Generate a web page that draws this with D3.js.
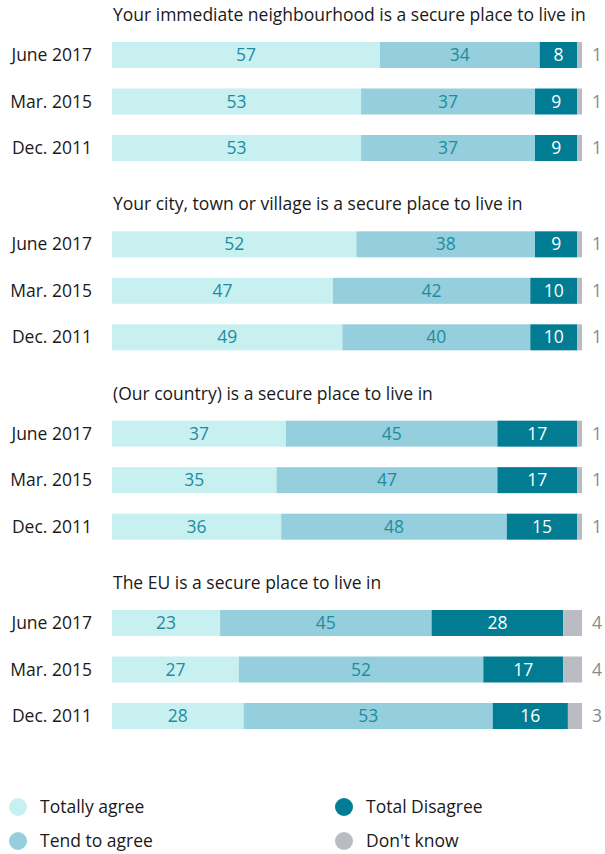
<!DOCTYPE html>
<html>
<head>
<meta charset="utf-8">
<script src="https://cdn.jsdelivr.net/npm/d3@7"></script>
<style>
  html, body { margin: 0; padding: 0; background: #fff; }
  svg { display: block; font-family: "Open Sans", "Noto Sans", sans-serif; }
</style>
</head>
<body>
<svg id="chart" width="605" height="854"></svg>
<script>
// Survey statements, one panel each
const statements = [
  "Your immediate neighbourhood is a secure place to live in",
  "Your city, town or village is a secure place to live in",
  "(Our country) is a secure place to live in",
  "The EU is a secure place to live in"
];
const periods = ["June 2017", "Mar. 2015", "Dec. 2011"];
const answers = ["Totally agree", "Tend to agree", "Total Disagree", "Don't know"];

// Shares (%) per statement, per period: [Totally agree, Tend to agree, Total Disagree, Don't know]
const neighbourhood = [[57, 34, 8, 1], [53, 37, 9, 1], [53, 37, 9, 1]];
const cityTown      = [[52, 38, 9, 1], [47, 42, 10, 1], [49, 40, 10, 1]];
const ourCountry    = [[37, 45, 17, 1], [35, 47, 17, 1], [36, 48, 15, 1]];
const theEU         = [[23, 45, 28, 4], [27, 52, 17, 4], [28, 53, 16, 3]];
const panels = [neighbourhood, cityTown, ourCountry, theEU];

const colors = ["#c9f0f1", "#95cfdd", "#017c92", "#b9bcc2"];
const labelColors = ["#1e8c9e", "#1e8c9e", "#ffffff", "#8a8a8a"];

const fs = 17.5;
const svg = d3.select("#chart");

const x = d3.scaleLinear().domain([0, 100]).range([112, 582]);
const panelY = d3.scalePoint().domain(d3.range(panels.length)).range([0, 568]);
const rowY = d3.scalePoint().domain(periods).range([54, 147]);
const barH = 26;
const color = d3.scaleOrdinal().domain(answers).range(colors);

panels.forEach((rows, pi) => {
  const g = svg.append("g").attr("transform", `translate(0,${panelY(pi)})`);

  g.append("text")
    .attr("x", 113)
    .attr("y", 21)
    .attr("font-size", fs)
    .attr("fill", "#1a1a1a")
    .text(statements[pi]);

  rows.forEach((vals, ri) => {
    const cy = rowY(periods[ri]) + 1;
    const segs = [];
    let acc = 0;
    vals.forEach((v, k) => { segs.push({ k, v, x0: acc, x1: acc + v }); acc += v; });

    const row = g.append("g");

    row.append("text")
      .attr("x", 92)
      .attr("y", cy)
      .attr("dy", "0.35em")
      .attr("text-anchor", "end")
      .attr("font-size", fs)
      .attr("fill", "#1a1a1a")
      .text(periods[ri]);

    row.selectAll("rect")
      .data(segs)
      .join("rect")
      .attr("x", d => x(d.x0))
      .attr("y", cy - barH / 2)
      .attr("width", d => x(d.x1) - x(d.x0))
      .attr("height", barH)
      .attr("fill", d => color(answers[d.k]));

    row.selectAll("text.val")
      .data(segs)
      .join("text")
      .attr("class", "val")
      .attr("x", d => d.k === 3 ? 597 : (x(d.x0) + x(d.x1)) / 2)
      .attr("y", cy)
      .attr("dy", "0.35em")
      .attr("text-anchor", "middle")
      .attr("font-size", fs)
      .attr("fill", d => labelColors[d.k])
      .text(d => d.v);
  });
});

// Legend
const legendPos = [[18, 807], [18, 841], [344, 807], [344, 841]];
const legend = svg.append("g")
  .selectAll("g")
  .data(answers)
  .join("g")
  .attr("transform", (d, i) => `translate(${legendPos[i][0]},${legendPos[i][1]})`);

legend.append("circle")
  .attr("r", 9)
  .attr("fill", d => color(d));

legend.append("text")
  .attr("x", 22)
  .attr("dy", "0.35em")
  .attr("font-size", fs)
  .attr("fill", "#1a1a1a")
  .text(d => d);
</script>
</body>
</html>
